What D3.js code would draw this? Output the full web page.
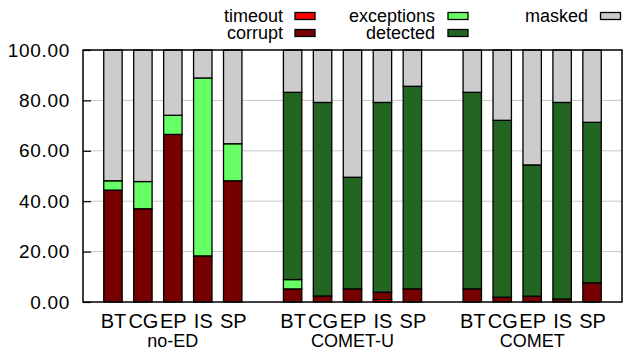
<!DOCTYPE html>
<html>
<head>
<meta charset="utf-8">
<script src="https://cdn.jsdelivr.net/npm/d3@7"></script>
<style>
  html, body { margin: 0; padding: 0; background: #fff; }
  svg { display: block; }
  text { font-family: "Liberation Sans", Arial, Helvetica, sans-serif; fill: #000; }
</style>
</head>
<body>
<svg id="chart" width="623" height="351"></svg>
<script>
const groups = ["no-ED", "COMET-U", "COMET"];
const benchmarks = ["BT", "CG", "EP", "IS", "SP"];
const seriesNames = ["timeout", "corrupt", "exceptions", "detected", "masked"];
const seriesColors = ["#ff0000", "#770000", "#66ff66", "#226622", "#cccccc"];

const timeout    = [0, 0, 0, 0, 0,      0, 0, 0, 1.0, 0,      0, 0, 0, 0, 0];
const corrupt    = [44.4, 37.0, 66.5, 18.3, 48.1,  5.2, 2.4, 5.2, 2.9, 5.2,  5.2, 1.9, 2.3, 1.2, 7.6];
const exceptions = [3.7, 10.8, 7.6, 70.6, 14.7,   3.7, 0, 0, 0, 0,   0, 0, 0, 0, 0];
const detected   = [0, 0, 0, 0, 0,   74.3, 76.8, 44.3, 75.3, 80.4,   78.0, 70.2, 52.1, 78.0, 63.7];
const masked     = [51.9, 52.2, 25.9, 11.1, 37.2,  16.8, 20.8, 50.5, 20.8, 14.4,  16.8, 27.9, 45.6, 20.8, 28.7];
const yTicks = [0, 20, 40, 60, 80, 100];

const rows = [];
groups.forEach((g, gi) => benchmarks.forEach((b, bi) => {
  const k = gi * benchmarks.length + bi;
  rows.push({ group: g, bench: b, pos: gi * 6 + bi,
    timeout: timeout[k], corrupt: corrupt[k], exceptions: exceptions[k],
    detected: detected[k], masked: masked[k] });
}));

const svg = d3.select("#chart");
const L = 83, R = 622, T = 50, B = 302;
const x = d3.scaleLinear().domain([-1, 17]).range([L, R]);
const y = d3.scaleLinear().domain([0, 100]).range([B, T]);
const slot = x(1) - x(0);
const bw = slot * 0.615;
const FF = "'Liberation Sans', Arial, sans-serif";

// grid
svg.append("g").selectAll("line").data(yTicks.filter(v => v > 0 && v < 100)).join("line")
  .attr("x1", L).attr("x2", R).attr("y1", d => y(d)).attr("y2", d => y(d))
  .attr("stroke", "#c8c8c8").attr("stroke-width", 1);

// bars
const stack = d3.stack().keys(seriesNames)(rows);
const color = d3.scaleOrdinal().domain(seriesNames).range(seriesColors);
svg.append("g").selectAll("g").data(stack).join("g")
  .attr("fill", d => color(d.key))
  .selectAll("rect").data(d => d.filter(s => s[1] - s[0] > 0)).join("rect")
  .attr("x", d => x(d.data.pos) - bw / 2)
  .attr("width", bw)
  .attr("y", d => y(d[1]))
  .attr("height", d => y(d[0]) - y(d[1]))
  .attr("stroke", "#000").attr("stroke-width", 1.3);

// y axis
const yAxis = d3.axisLeft(y).tickValues(yTicks).tickFormat(d3.format(".2f")).tickSizeInner(-8).tickSizeOuter(0).tickPadding(13);
const ya = svg.append("g").attr("transform", `translate(${L},0)`).call(yAxis);
ya.select(".domain").remove();
ya.selectAll(".tick line").attr("stroke", "#000").attr("stroke-width", 1.2);
ya.selectAll(".tick text").attr("font-size", 19).attr("letter-spacing", "0.7px")
  .style("font-family", FF).attr("fill", "#000");

// x axis labels
const xAxis = d3.axisBottom(x).tickValues(rows.map(r => r.pos))
  .tickFormat((d, i) => rows[i].bench).tickSize(0).tickPadding(12);
const xa = svg.append("g").attr("transform", `translate(0,${B})`).call(xAxis);
xa.select(".domain").remove();
xa.selectAll(".tick text").attr("font-size", 20)
  .style("font-family", FF).attr("fill", "#000");

// group labels
svg.append("g").selectAll("text").data(groups).join("text")
  .attr("x", (d, i) => x(i * 6 + 2)).attr("y", 347)
  .attr("text-anchor", "middle").attr("font-size", 18).text(d => d);

// border
svg.append("rect").attr("x", L).attr("y", T).attr("width", R - L).attr("height", B - T)
  .attr("fill", "none").attr("stroke", "#000").attr("stroke-width", 1.5);

// legend
const legendItems = [
  { name: "timeout", col: 0, row: 0 },
  { name: "corrupt", col: 0, row: 1 },
  { name: "exceptions", col: 1, row: 0 },
  { name: "detected", col: 1, row: 1 },
  { name: "masked", col: 2, row: 0 }
];
const colTextEnd = [283, 435, 588];
const colBox = [295, 448, 600.5];
const lg = svg.append("g").selectAll("g").data(legendItems).join("g");
lg.append("text").attr("x", d => colTextEnd[d.col]).attr("y", d => 22 + d.row * 17)
  .attr("text-anchor", "end").attr("font-size", 18).text(d => d.name);
lg.append("rect").attr("x", d => colBox[d.col]).attr("y", d => 12.5 + d.row * 17)
  .attr("width", 20).attr("height", 7)
  .attr("fill", d => color(d.name)).attr("stroke", "#000").attr("stroke-width", 1.3);
</script>
</body>
</html>
